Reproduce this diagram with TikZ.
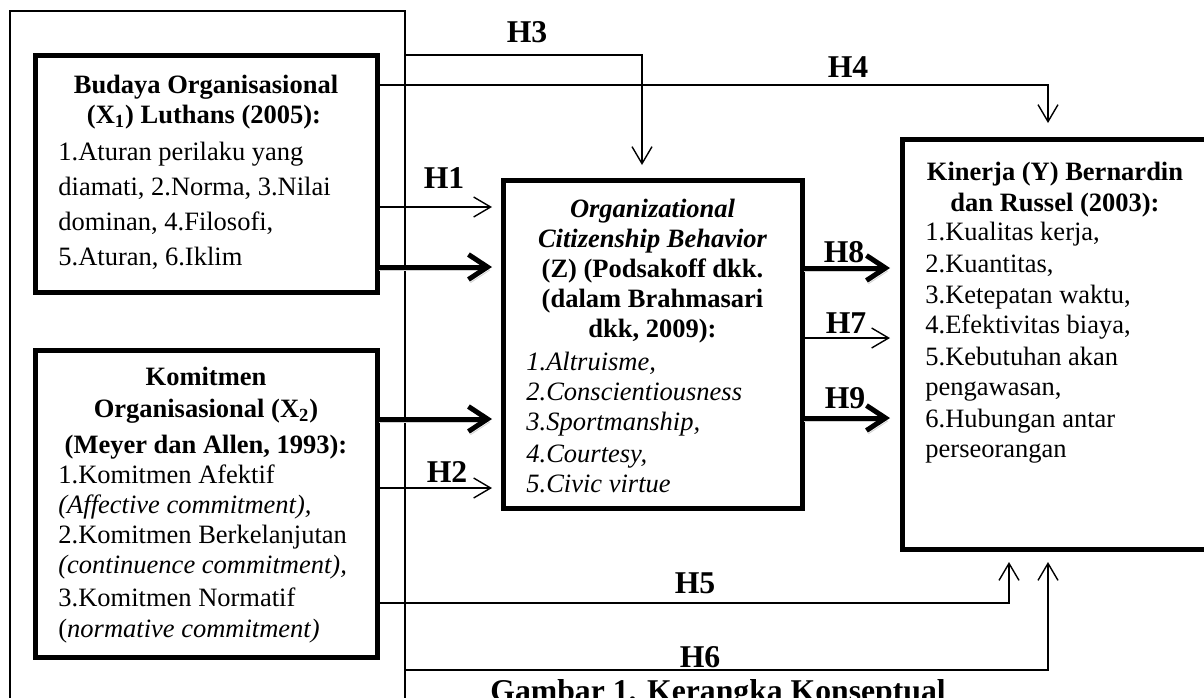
\documentclass[tikz,border=0pt]{standalone}
\usepackage{fontspec}
\setmainfont{Liberation Serif}
\usetikzlibrary{arrows.meta,calc}
\tikzset{
  box/.style={draw, line width=2.5pt, anchor=north west, inner sep=0pt, outer sep=0pt},
  frame/.style={draw, line width=0.7pt, anchor=north west, inner sep=0pt, outer sep=0pt},
  thinarr/.style={line width=0.7pt, -{Straight Barb[length=8.5pt,width=10pt]}},
  thickarr/.style={line width=2.5pt, -{Straight Barb[length=9.5pt,width=12.5pt]},
    preaction={draw=black!18, transform canvas={shift={(1pt,-1.6pt)}}}},
  body/.style={font=\fontsize{13.25}{16}\selectfont, inner sep=0pt, anchor=base west},
  ttl/.style={font=\fontsize{13.25}{16}\selectfont\bfseries, inner sep=0pt, anchor=base},
  hlab/.style={font=\fontsize{15.85}{18}\selectfont\bfseries, inner sep=0pt, anchor=base},
}
\begin{document}
\begin{tikzpicture}[x=0.5pt,y=-0.5pt]
\useasboundingbox (0,0) rectangle (1204,697);
\clip (0,0) rectangle (1204,697);
\fill[white] (0,0) rectangle (1204,697);

% frame and boxes
\node[frame, minimum width=197.5pt, minimum height=354.5pt] (frame) at (10,11) {};
\node[box, minimum width=171pt, minimum height=118.5pt] (x1) at (35,55) {};
\node[box, minimum width=171pt, minimum height=153.5pt] (x2) at (35,350) {};
\node[box, minimum width=149.5pt, minimum height=164pt] (z) at (503,180) {};
\node[box, minimum width=156.5pt, minimum height=205pt] (y) at (902,139) {};

% helper heights
\coordinate (yh1) at (0,207);
\coordinate (yt1) at (0,267);
\coordinate (yt2) at (0,419);
\coordinate (yh2) at (0,488);
\coordinate (yh4) at (0,85);
\coordinate (yh8) at (0,268);
\coordinate (yh7) at (0,338);
\coordinate (yh9) at (0,418);
\coordinate (yh5) at (0,603);
\coordinate (yh6) at (0,670);

% connectors
\draw[thinarr] (frame.east |- x1.north) -| ($(z.north)+(-10.5,-15)$);
\draw[thinarr] (x1.east |- yh4) -| ($(y.north)+(-10.5,-16)$);
\draw[thinarr, shorten >=5.5pt] (x1.east |- yh1) -- (z.west |- yh1);
\draw[thickarr, shorten >=5.5pt] (x1.east |- yt1) -- (z.west |- yt1);
\draw[thickarr, shorten >=5.5pt] (x2.east |- yt2) -- (z.west |- yt2);
\draw[thinarr, shorten >=5.5pt] (x2.east |- yh2) -- (z.west |- yh2);
\draw[thickarr, shorten >=6pt] (z.east |- yh8) -- (y.west |- yh8);
\draw[thinarr, shorten >=6pt] (z.east |- yh7) -- (y.west |- yh7);
\draw[thickarr, shorten >=6pt] (z.east |- yh9) -- (y.west |- yh9);
\draw[thinarr] (x2.east |- yh5) -| ($(y.south)+(-49.5,13)$);
\draw[thinarr] (frame.east |- yh6) -| ($(y.south)+(-10.5,13)$);

% labels
\node[hlab] (lh3) at (527,42) {H3};
\node[hlab] (lh4) at (848,77) {H4};
\node[hlab] (lh1) at (444,188) {H1};
\node[hlab] (lh2) at (447,482) {H2};
\node[hlab] (lh8) at (844,262) {H8};
\node[hlab] (lh7) at (846,333) {H7};
\node[hlab] (lh9) at (845,408) {H9};
\node[hlab] (lh5) at (695,593) {H5};
\node[hlab] (lh6) at (700,667) {H6};

% X1 text
\node[ttl] (x1t1) at (206,93) {Budaya Organisasional};
\node[ttl] (x1t2) at (204,123) {(X\textsubscript{1}) Luthans (2005):};
\foreach \t [count=\i from 0] in {1.Aturan perilaku yang, {diamati, 2.Norma, 3.Nilai}, {dominan, 4.Filosofi,}, {5.Aturan, 6.Iklim}}
  \node[body] (x1l\i) at (58,160+35*\i) {\t};

% X2 text
\node[ttl] (x2t1) at (206,385) {Komitmen};
\node[ttl] (x2t2) at (206,417) {Organisasional (X\textsubscript{2})};
\node[ttl] (x2t3) at (206,453) {(Meyer dan Allen, 1993):};
\node[body] (x2l1) at (58,483) {1.Komitmen Afektif};
\node[body] (x2l2) at (58,513) {\itshape (Affective commitment),};
\node[body] (x2l3) at (58,543) {2.Komitmen Berkelanjutan};
\node[body] (x2l4) at (58,573) {\itshape (continuence commitment),};
\node[body] (x2l5) at (58,606) {3.Komitmen Normatif};
\node[body] (x2l6) at (58,637) {(\textit{normative commitment)}};

% Z text
\node[ttl] (zt1) at (652.5,217) {\itshape Organizational};
\node[ttl] (zt2) at (652.5,247) {\itshape Citizenship Behavior};
\node[ttl] (zt3) at (652.5,277) {(Z) (Podsakoff dkk.};
\node[ttl] (zt4) at (652.5,307) {(dalam Brahmasari};
\node[ttl] (zt5) at (652.5,337) {dkk, 2009):};
\foreach \t/\yy [count=\i] in {{1.Altruisme,}/370, 2.Conscientiousness/400, {3.Sportmanship,}/430, {4.Courtesy,}/462, 5.Civic virtue/492}
  \node[body, font=\fontsize{13.25}{16}\selectfont\itshape] (zl\i) at (526,\yy) {\t};

% Y text
\node[ttl] (yt1) at (1055,180) {Kinerja (Y) Bernardin};
\node[ttl] (yt2) at (1055,211) {dan Russel (2003):};
\foreach \t/\yy [count=\i] in {{1.Kualitas kerja,}/240, {2.Kuantitas,}/272, {3.Ketepatan waktu,}/303, {4.Efektivitas biaya,}/333, 5.Kebutuhan akan/365, {pengawasan,}/395, 6.Hubungan antar/427, perseorangan/457}
  \node[body] (yl\i) at (925,\yy) {\t};

% caption
\node[hlab, anchor=base west] (cap) at (490,701) {Gambar 1. Kerangka Konseptual};
\end{tikzpicture}
\end{document}
